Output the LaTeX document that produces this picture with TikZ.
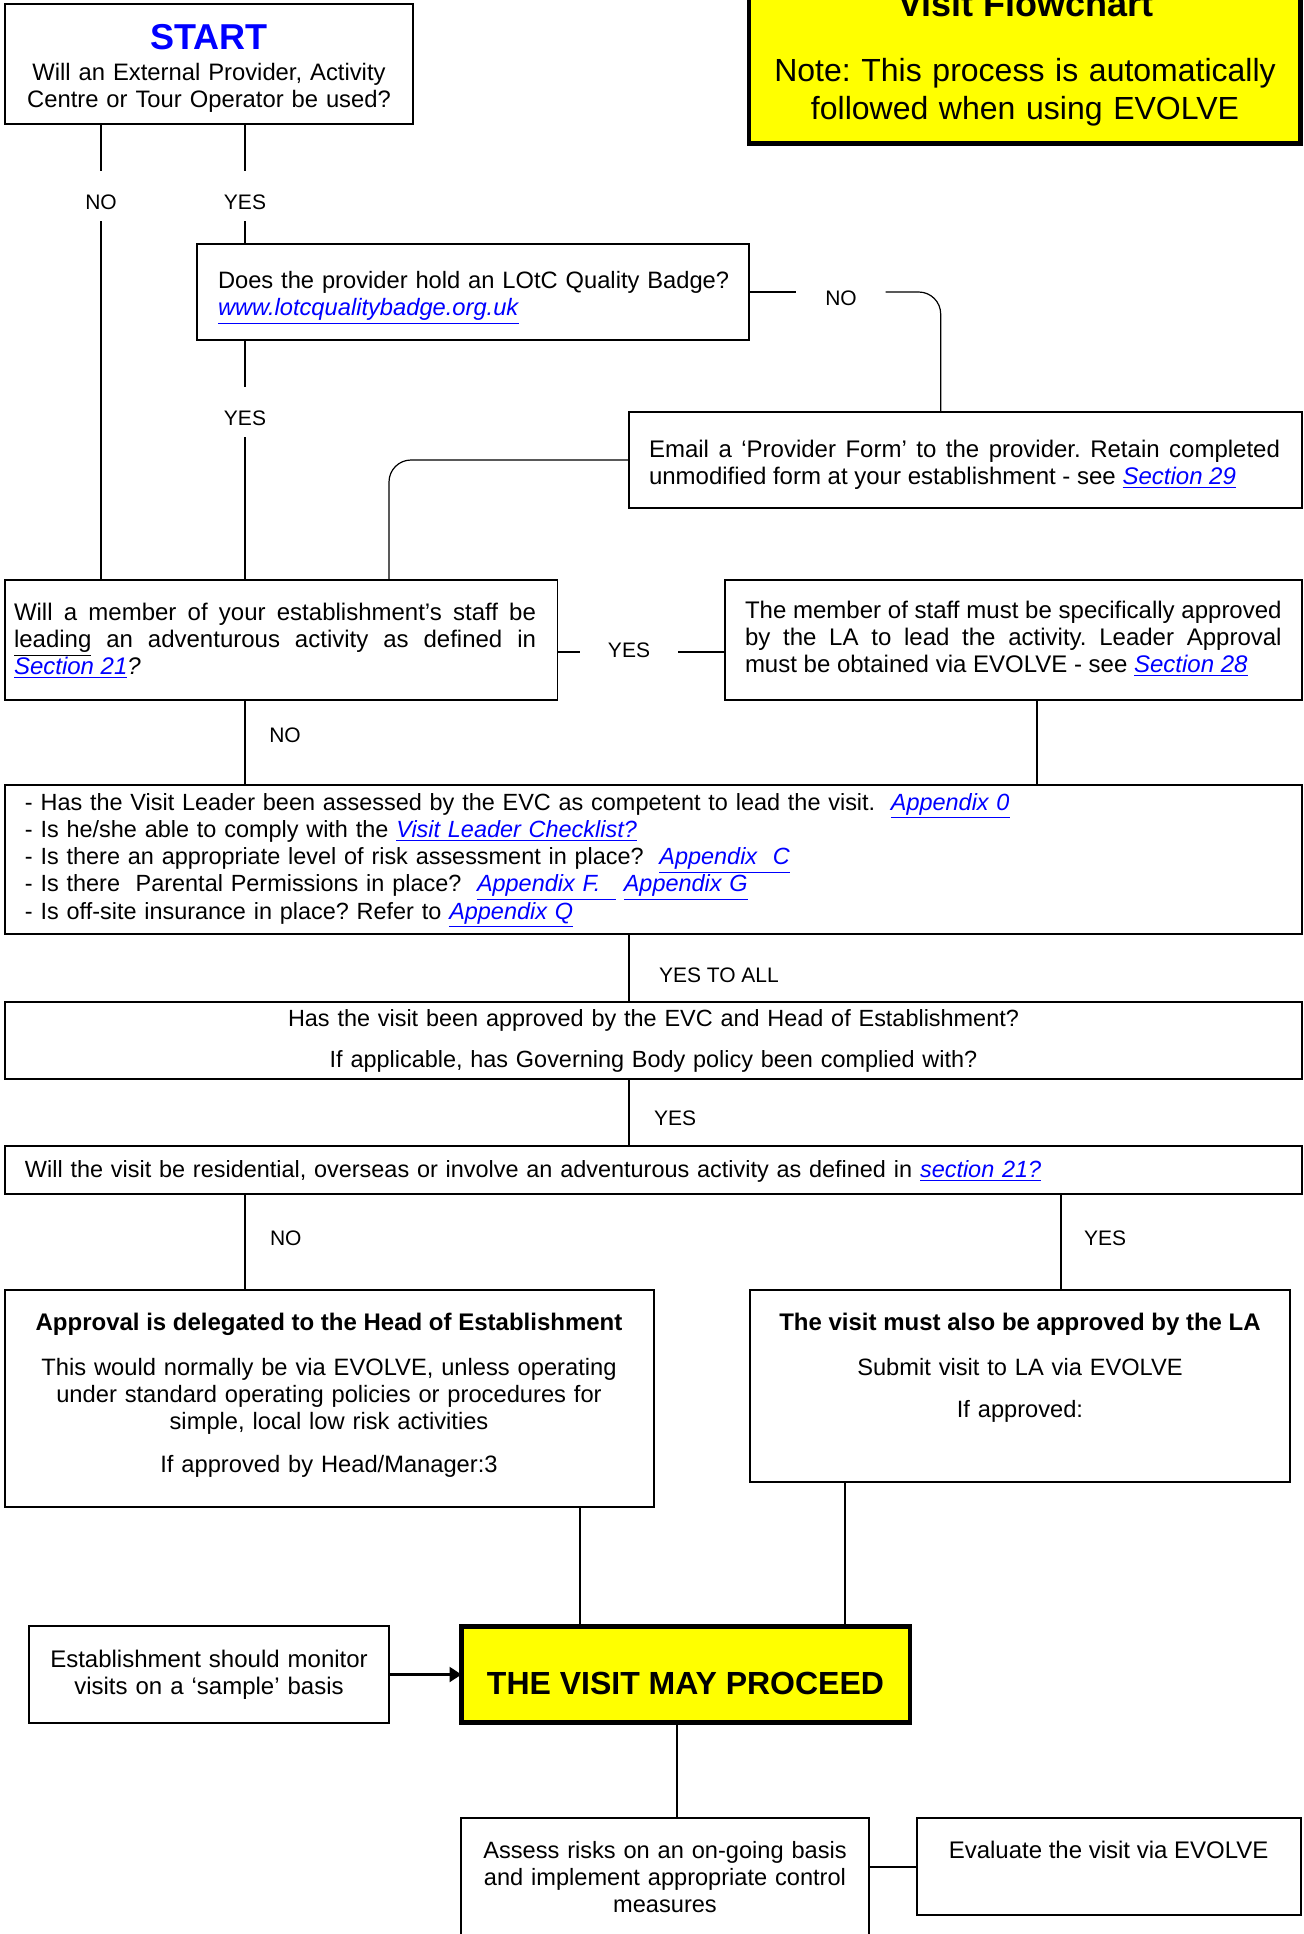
\documentclass[tikz,border=0pt]{standalone}
\usepackage{fontspec}
\setmainfont{Liberation Sans}
\usetikzlibrary{arrows.meta,fit,calc}
\definecolor{linkblue}{RGB}{0,0,255}
\definecolor{hiyellow}{RGB}{255,255,0}
\newcommand{\lnk}[1]{{\color{linkblue}\underline{\textit{#1}}}}
\hbadness=10000
\frenchspacing
\begin{document}
\frenchspacing
\begin{tikzpicture}[x=0.5pt,y=-0.5pt,
  box/.style={draw=black,line width=0.6pt,inner sep=0pt,outer sep=0pt},
  thickbox/.style={draw=black,line width=2.4pt,fill=hiyellow,inner sep=0pt,outer sep=0pt},
  txt/.style={inner sep=0pt,outer sep=0pt,font=\fontsize{12}{13.7}\selectfont},
  smalltxt/.style={inner sep=0pt,outer sep=0pt,font=\fontsize{11.72}{13.63}\selectfont},
  boldtxt/.style={inner sep=0pt,outer sep=0pt,font=\fontsize{12}{13.7}\selectfont\bfseries},
  lbl/.style={inner sep=0pt,outer sep=0pt,font=\fontsize{10.5}{12}\selectfont,text height=7.5pt,text depth=0pt},
  gaplbl/.style={lbl,text height=19.25pt,text depth=5.75pt},
  conn/.style={line width=0.6pt},
]
\useasboundingbox (0,0) rectangle (1303,1934);

% ---------- boxes ----------
\node[thickbox, fit={(749,-40) (1300.5,143.7)}] (title) {};
\node[box, fit={(5,4) (413,124)}] (start) {};
\node[box, fit={(197,244) (749,340)}] (quality) {};
\node[box, fit={(629,412) (1302,508)}] (email) {};
\node[box, fit={(5,580) (557.6,700)}] (will) {};
\node[box, fit={(725,580) (1302,700)}] (member) {};
\node[box, fit={(5,785) (1302,934)}] (check) {};
\node[box, fit={(5,1002) (1302,1079)}] (appr) {};
\node[box, fit={(5,1146) (1302,1194)}] (resi) {};
\node[box, fit={(5,1290) (654,1507)}] (hoe) {};
\node[box, fit={(750,1290) (1290,1482)}] (la) {};
\node[thickbox, fit={(461.5,1626.5) (910,1722.5)}] (proceed) {};
\node[box, fit={(29,1626) (389,1723)}] (monitor) {};
\node[box, fit={(461,1818) (869,1960)}] (assess) {};
\node[box, fit={(917,1818) (1301,1915)}] (evaluate) {};

% ---------- texts ----------
\node[txt,anchor=base,font=\fontsize{18}{20}\selectfont\bfseries] (ttl) at (1026,16.7) {Visit Flowchart};
\node[txt,anchor=base,align=center,text width=270pt,font=\fontsize{16}{18.8}\selectfont] (note) at (1025,81.7)
  {Note: This process is automatically\\followed when using EVOLVE};

\node[txt,anchor=base,font=\fontsize{18}{20}\selectfont\bfseries,text=linkblue] (starttitle) at (209,49) {START};
\node[txt,anchor=base,align=center,text width=200pt,font=\fontsize{11.9}{13.6}\selectfont] (startq) at (209,80)
  {Will an External Provider, Activity\\Centre or Tour Operator be used?};

\node[txt,anchor=base west,text width=270pt,align=left,font=\fontsize{11.85}{13.6}\selectfont] (qualityq) at (218,288)
  {Does the provider hold an LOtC Quality Badge?\\\lnk{www.lotcqualitybadge.org.uk}};

\node[txt,anchor=base west,text width=315.5pt,align=justify] (emailtxt) at (649,457)
  {Email a ‘Provider Form’ to the provider. Retain completed\linebreak unmodified form at your establishment - see \lnk{Section 29}};

\node[txt,anchor=base west,text width=261pt,align=justify] (willtxt) at (14,620)
  {Will a member of your establishment’s staff be\linebreak \underline{leading} an adventurous activity as defined in\linebreak \lnk{Section 21}\textit{?}};

\node[txt,anchor=base west,text width=268.3pt,align=justify] (membertxt) at (745,618)
  {The member of staff must be specifically approved\linebreak by the LA to lead the activity. Leader Approval\linebreak must be obtained via EVOLVE - see \lnk{Section 28}};

\node[smalltxt,anchor=base west,text width=620pt,align=left] (checktxt) at (25,810)
  {- Has the Visit Leader been assessed by the EVC as competent to lead the visit.\ \ \lnk{Appendix 0}\\
   - Is he/she able to comply with the \lnk{Visit Leader Checklist?}\\
   - Is there an appropriate level of risk assessment in place?\ \ \lnk{Appendix\ \ C}\\
   - Is there\ \ Parental Permissions in place?\ \ \lnk{Appendix F.\ \ }\ \lnk{Appendix G}\\
   - Is off-site insurance in place? Refer to \lnk{Appendix Q}};

\node[smalltxt,anchor=base,text width=600pt,align=center] (apprtxt) at (653.5,1026)
  {Has the visit been approved by the EVC and Head of Establishment?\\[7.3pt]If applicable, has Governing Body policy been complied with?};

\node[smalltxt,anchor=base west,text width=620pt,align=left] (resitxt) at (25,1177)
  {Will the visit be residential, overseas or involve an adventurous activity as defined in \lnk{section 21?}};

\node[boldtxt,anchor=base] (hoehead) at (329,1330) {Approval is delegated to the Head of Establishment};
\node[txt,anchor=base,text width=310pt,align=center,font=\fontsize{11.85}{13.7}\selectfont] (hoetxt) at (329,1375)
  {This would normally be via EVOLVE, unless operating\\under standard operating policies or procedures for\\simple, local low risk activities\\[7.8pt]If approved by Head/Manager:3};

\node[boldtxt,anchor=base] (lahead) at (1020,1330) {The visit must also be approved by the LA};
\node[txt,anchor=base,text width=260pt,align=center,font=\fontsize{11.82}{13.7}\selectfont] (latxt) at (1020,1375)
  {Submit visit to LA via EVOLVE\\[7.3pt]If approved:};

\node[inner sep=0pt,anchor=base,font=\fontsize{16}{18}\selectfont\bfseries] (proceedtxt) at (685.5,1694) {THE VISIT MAY PROCEED};

\node[txt,anchor=base,text width=180pt,align=center] (montxt) at (209,1667)
  {Establishment should monitor\\visits on a ‘sample’ basis};

\node[txt,anchor=base,text width=200pt,align=center,font=\fontsize{11.8}{13.7}\selectfont] (asstxt) at (665,1858)
  {Assess risks on an on-going basis\\and implement appropriate control\\measures};

\node[txt,anchor=base] (evtxt) at (1108.6,1858) {Evaluate the visit via EVOLVE};

% ---------- labels ----------
\node[gaplbl,anchor=base] (noA) at (101,209.5) {NO};
\node[gaplbl,anchor=base] (yesA) at (245,209.5) {YES};
\node[gaplbl,anchor=base] (yesB) at (245,425.5) {YES};
\node[lbl,anchor=base,text height=15pt,text depth=1.5pt,minimum width=44.7pt] (noB) at (841,305.5) {NO};
\node[lbl,anchor=base,text height=7.5pt,text depth=2pt,minimum width=49pt] (yesC) at (629,657.5) {YES};
\node[lbl,anchor=base] (noC) at (285,742.5) {NO};
\node[lbl,anchor=base west] (yesall) at (659,982.5) {YES TO ALL};
\node[lbl,anchor=base west] (yesD) at (654,1125.5) {YES};
\node[lbl,anchor=base west] (noD) at (270,1245.5) {NO};
\node[lbl,anchor=base west] (yesE) at (1084,1245.5) {YES};

% ---------- helper coordinates ----------
\coordinate (cA) at (389,0);
\coordinate (cB) at (940.7,0);
\coordinate (cC) at (1037,0);
\coordinate (cD) at (629,0);
\coordinate (cF) at (245,0);
\coordinate (cG) at (1061,0);
\coordinate (cH) at (580,0);
\coordinate (cI) at (845,0);
\coordinate (cJ) at (677,0);
\coordinate (cE) at (0,1867);

% ---------- connectors ----------
\draw[conn] (start.south -| noA) -- (noA.north);
\draw[conn] (noA.south) -- (will.north -| noA);
\draw[conn] (start.south -| yesA) -- (yesA.north);
\draw[conn] (yesA.south) -- (quality.north -| yesA);
\draw[conn] (quality.south -| yesB) -- (yesB.north);
\draw[conn] (yesB.south) -- (will.north -| yesB);
\draw[conn] (quality.east) -- (noB.west);
\draw[conn,rounded corners=11pt] (noB.east) -| (email.north -| cB);
\draw[conn,rounded corners=11pt] (email.west) -| (will.north -| cA);
\draw[conn] (will.east |- yesC) -- (yesC.west);
\draw[conn] (yesC.east) -- (member.west |- yesC);
\draw[conn] (will.south -| cF) -- (check.north -| cF);
\draw[conn] (member.south -| cC) -- (check.north -| cC);
\draw[conn] (check.south -| cD) -- (appr.north -| cD);
\draw[conn] (appr.south -| cD) -- (resi.north -| cD);
\draw[conn] (resi.south -| cF) -- (hoe.north -| cF);
\draw[conn] (resi.south -| cG) -- (la.north -| cG);
\draw[conn] (hoe.south -| cH) -- (proceed.north -| cH);
\draw[conn] (la.south -| cI) -- (proceed.north -| cI);
\draw[conn] (proceed.south -| cJ) -- (assess.north -| cJ);
\draw[line width=1.2pt,-{Triangle[length=6pt,width=7.5pt]}] (monitor.east) -- (proceed.west);
\draw[conn] (assess.east |- cE) -- (evaluate.west |- cE);
\end{tikzpicture}
\end{document}
